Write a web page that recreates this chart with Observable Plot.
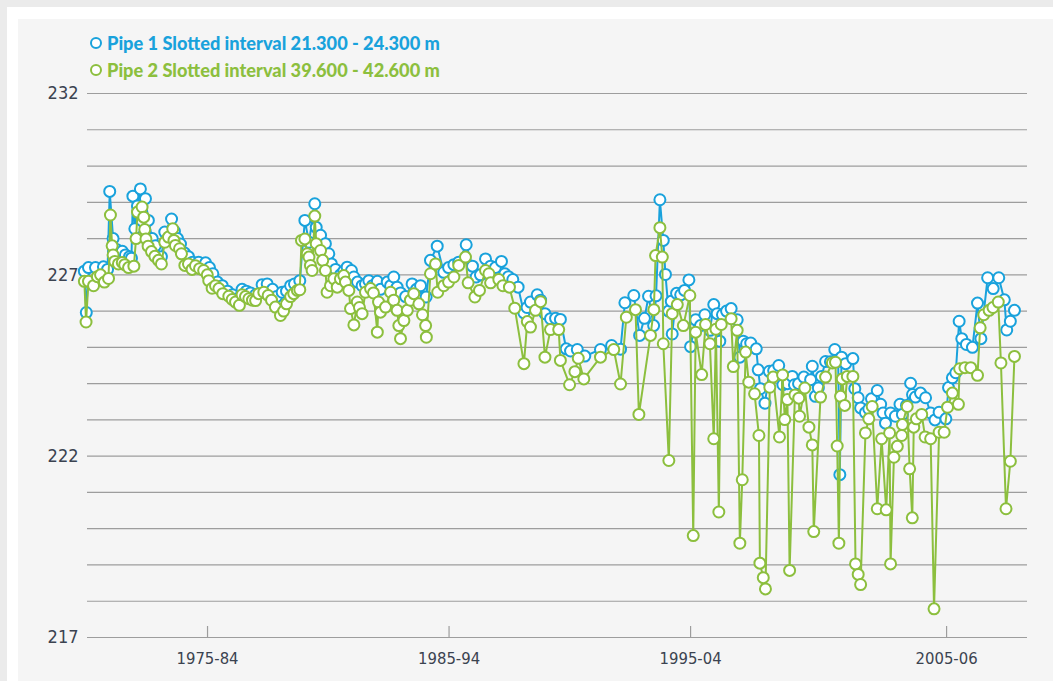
<!DOCTYPE html>
<html>
<head>
<meta charset="utf-8">
<script src="https://cdn.jsdelivr.net/npm/d3@7"></script>
<script src="https://cdn.jsdelivr.net/npm/@observablehq/plot@0.6"></script>
<style>
  html, body { margin: 0; padding: 0; width: 1053px; height: 681px; overflow: hidden; background: #ebebeb; }
  #frame { position: absolute; left: 7px; top: 7px; width: 1046px; height: 674px; background: #ffffff; }
  #panel { position: absolute; left: 18px; top: 19px; width: 1035px; height: 662px; background: #f5f5f5; }
  #chart { position: absolute; left: 0; top: 0; }
  #legend { position: absolute; left: 89px; top: 29px; font-family: Lato, "Open Sans", sans-serif; font-weight: 900; font-size: 18.2px; }
  .row { display: flex; align-items: center; height: 27px; white-space: nowrap; }
  .row svg { margin-right: 4px; }
</style>
</head>
<body>
<div id="frame"></div>
<div id="panel"></div>
<div id="chart"></div>
<div id="legend"></div>
<script>
// ---- data (decimal year, water level) ----
const seriesNames = ["Pipe 1 Slotted interval 21.300 - 24.300 m", "Pipe 2 Slotted interval 39.600 - 42.600 m"];
const seriesColors = ["#19a2dc", "#8cbf3e"];

const pipe1Year = [1969.90,1969.98,1970.07,1970.36,1970.69,1970.86,1970.95,1971.09,1971.23,1971.47,1971.60,1971.77,1971.85,1971.91,1971.99,1972.10,1972.22,1972.43,1972.55,1972.71,1972.84,1973.09,1973.23,1973.51,1973.63,1973.76,1973.88,1974.05,1974.21,1974.38,1974.63,1974.92,1975.08,1975.22,1975.41,1975.61,1975.83,1976.03,1976.24,1976.43,1976.61,1976.78,1976.99,1977.26,1977.47,1977.69,1977.86,1978.09,1978.27,1978.44,1978.60,1978.82,1979.03,1979.20,1979.44,1979.50,1979.68,1979.88,1980.02,1980.13,1980.30,1980.50,1980.64,1980.78,1980.96,1981.06,1981.21,1981.40,1981.54,1981.68,1981.83,1982.03,1982.16,1982.44,1982.58,1982.71,1982.85,1982.99,1983.20,1983.47,1983.65,1983.82,1984.05,1984.23,1984.51,1984.78,1984.98,1985.20,1985.40,1985.71,1985.97,1986.12,1986.30,1986.51,1986.72,1986.92,1987.17,1987.31,1987.46,1987.64,1987.86,1988.10,1988.23,1988.37,1988.65,1988.79,1988.97,1989.20,1989.41,1989.61,1989.85,1990.03,1990.31,1990.62,1991.27,1991.73,1992.10,1992.28,1992.65,1992.89,1993.09,1993.26,1993.47,1993.57,1993.73,1993.87,1993.96,1994.09,1994.20,1994.24,1994.42,1994.59,1994.75,1994.93,1995.00,1995.21,1995.41,1995.59,1995.80,1995.96,1996.10,1996.21,1996.32,1996.49,1996.68,1996.93,1997.04,1997.18,1997.32,1997.49,1997.72,1997.80,1997.89,1998.08,1998.26,1998.44,1998.65,1998.82,1999.01,1999.21,1999.30,1999.47,1999.69,1999.97,2000.04,2000.17,2000.29,2000.42,2000.59,2000.79,2000.97,2001.11,2001.18,2001.25,2001.42,2001.72,2001.80,2001.94,2002.04,2002.24,2002.38,2002.49,2002.73,2002.87,2002.97,2003.07,2003.28,2003.48,2003.67,2003.77,2003.94,2004.11,2004.19,2004.31,2004.52,2004.73,2004.94,2005.12,2005.29,2005.57,2005.68,2005.84,2005.98,2006.12,2006.23,2006.42,2006.67,2006.88,2007.02,2007.30,2007.53,2007.76,2007.99,2008.09,2008.24,2008.41];
const pipe1Level = [227.1,225.96,227.2,227.2,227.22,227.15,229.3,228.0,227.7,227.65,227.55,227.5,227.46,229.17,228.27,228.9,229.37,229.1,228.5,228.0,227.8,227.5,228.18,228.54,228.2,228.0,227.85,227.6,227.5,227.35,227.35,227.33,227.2,227.03,226.8,226.7,226.55,226.45,226.35,226.6,226.55,226.5,226.45,226.73,226.75,226.6,226.4,226.52,226.55,226.7,226.75,226.84,228.5,227.9,228.96,228.31,228.09,227.86,227.58,227.3,227.15,227.0,227.1,227.21,227.12,226.94,226.8,226.7,226.75,226.84,226.7,226.82,226.6,226.8,226.7,226.94,226.66,226.5,226.4,226.75,226.6,226.7,226.39,227.4,227.79,227.07,227.2,227.28,227.35,227.83,227.24,226.94,227.0,227.44,227.24,227.2,227.37,227.03,226.95,226.87,226.66,225.95,226.1,226.25,226.45,226.3,225.93,225.79,225.8,225.77,224.96,224.9,224.94,224.76,224.94,225.05,224.95,226.23,226.43,225.33,225.8,226.41,225.6,226.42,229.07,227.95,227.01,226.0,226.27,225.37,226.49,226.45,226.57,226.86,225.02,225.76,225.6,225.9,225.47,226.18,225.93,225.17,225.9,226.0,226.07,225.76,224.73,225.17,225.1,225.12,224.96,224.38,223.86,223.46,224.34,224.36,224.5,223.97,224.0,224.2,223.97,224.0,224.18,224.11,224.48,223.65,223.88,224.2,224.61,224.6,224.94,224.61,221.49,224.73,224.55,224.69,223.86,223.61,223.33,223.2,223.3,223.58,223.81,223.43,223.19,222.91,223.19,223.1,223.43,223.15,223.4,224.01,223.7,223.63,223.74,223.61,223.19,223.0,223.21,223.03,223.89,224.16,224.3,225.72,225.24,225.08,225.0,226.22,225.24,226.92,226.62,226.92,226.31,225.48,225.72,226.02];

const pipe2Year = [1969.90,1969.97,1970.07,1970.28,1970.44,1970.57,1970.73,1970.90,1970.98,1971.05,1971.09,1971.16,1971.31,1971.47,1971.57,1971.73,1971.95,1972.04,1972.10,1972.29,1972.36,1972.40,1972.45,1972.54,1972.68,1972.82,1972.97,1973.09,1973.23,1973.38,1973.56,1973.61,1973.67,1973.84,1973.92,1974.06,1974.21,1974.36,1974.50,1974.67,1974.84,1974.99,1975.05,1975.19,1975.33,1975.47,1975.63,1975.88,1976.02,1976.16,1976.32,1976.43,1976.57,1976.71,1976.86,1976.99,1977.12,1977.33,1977.51,1977.65,1977.81,1978.02,1978.15,1978.27,1978.44,1978.57,1978.72,1978.82,1978.89,1979.03,1979.13,1979.20,1979.26,1979.33,1979.44,1979.50,1979.68,1979.77,1979.88,1979.95,1980.09,1980.23,1980.37,1980.50,1980.64,1980.71,1980.85,1980.92,1981.06,1981.20,1981.29,1981.40,1981.54,1981.75,1981.87,1982.03,1982.08,1982.16,1982.37,1982.58,1982.71,1982.85,1982.92,1982.99,1983.13,1983.27,1983.40,1983.54,1983.75,1983.90,1984.03,1984.06,1984.23,1984.44,1984.53,1984.78,1984.98,1985.20,1985.40,1985.68,1985.79,1986.07,1986.26,1986.51,1986.65,1986.72,1987.06,1987.23,1987.50,1987.72,1988.10,1988.24,1988.37,1988.58,1988.79,1988.97,1989.20,1989.54,1989.61,1989.99,1990.21,1990.35,1990.58,1991.27,1991.82,1992.10,1992.34,1992.72,1992.86,1993.34,1993.48,1993.55,1993.73,1993.83,1993.87,1994.10,1994.24,1994.45,1994.70,1994.97,1995.11,1995.21,1995.46,1995.62,1995.80,1995.96,1996.05,1996.17,1996.27,1996.68,1996.77,1996.93,1997.04,1997.14,1997.28,1997.41,1997.65,1997.83,1997.87,1998.01,1998.10,1998.28,1998.42,1998.68,1998.81,1998.90,1999.01,1999.10,1999.32,1999.48,1999.51,1999.73,1999.90,2000.04,2000.10,2000.38,2000.59,2000.87,2001.00,2001.07,2001.14,2001.21,2001.28,2001.38,2001.49,2001.72,2001.83,2001.94,2002.04,2002.24,2002.38,2002.52,2002.73,2002.91,2003.10,2003.24,2003.28,2003.42,2003.56,2003.74,2003.77,2003.97,2004.07,2004.18,2004.24,2004.35,2004.57,2004.71,2004.94,2005.08,2005.29,2005.50,2005.64,2005.84,2006.09,2006.14,2006.36,2006.60,2006.88,2006.99,2007.14,2007.36,2007.52,2007.74,2007.85,2008.06,2008.24,2008.41];
const pipe2Level = [226.82,225.7,226.82,226.7,226.95,227.0,226.8,226.9,228.65,227.8,227.55,227.37,227.3,227.34,227.28,227.2,227.24,228.0,228.73,228.87,228.59,228.25,227.99,227.79,227.64,227.51,227.4,227.3,227.9,228.04,228.27,227.95,227.81,227.72,227.58,227.26,227.3,227.15,227.25,227.17,227.12,227.0,226.84,226.63,226.7,226.62,226.48,226.41,226.32,226.25,226.16,226.45,226.4,226.34,226.3,226.29,226.48,226.52,226.43,226.3,226.11,225.88,226.0,226.2,226.4,226.48,226.57,226.59,227.95,227.99,227.58,227.49,227.26,227.12,228.62,227.86,227.67,227.4,227.12,226.52,226.7,226.89,226.66,226.89,226.98,226.8,226.57,226.07,225.62,226.25,226.1,225.93,226.52,226.62,226.5,225.42,226.25,225.97,226.11,226.52,226.3,226.02,225.6,225.24,225.74,226.02,226.3,226.48,226.2,225.9,225.6,225.28,227.03,227.3,226.52,226.7,226.8,226.94,227.26,227.49,226.78,226.39,226.57,227.12,227.03,226.78,226.87,226.7,226.66,226.08,224.55,225.71,225.56,226.02,226.26,224.73,225.49,225.49,224.64,223.97,224.33,224.7,224.13,224.73,224.94,223.99,225.83,226.04,223.15,225.33,226.04,227.53,228.3,227.49,225.1,221.88,225.93,226.18,225.6,226.43,219.81,225.42,224.25,225.63,225.1,222.48,225.5,220.46,225.63,225.79,224.47,225.47,219.6,221.35,224.87,224.04,223.72,222.57,219.05,218.65,218.34,223.9,224.18,222.53,224.24,223.01,223.56,218.85,223.69,223.6,223.1,223.88,222.8,222.31,219.92,223.63,224.18,224.57,224.59,222.28,219.6,223.65,224.13,223.4,224.2,224.2,219.03,218.74,218.46,222.64,223.03,223.37,220.55,222.48,220.52,222.64,219.03,221.97,222.27,222.57,222.87,223.37,221.65,220.3,222.8,223.03,223.15,222.53,222.48,217.79,222.66,222.66,223.35,223.74,223.43,224.41,224.44,224.44,224.23,225.54,225.9,226.02,226.1,226.25,224.57,220.55,221.86,224.75];

const yTicks = [217, 222, 227, 232];
const yGrid = [217,218,219,220,221,222,223,224,225,226,227,228,229,230,231,232];
const xTickValues = [1975, 1985, 1995, 2005.6];
const xTickLabels = ["1975-84", "1985-94", "1995-04", "2005-06"];

// ---- build ----
const pipe1 = pipe1Year.map((t, i) => ({t, v: pipe1Level[i]}));
const pipe2 = pipe2Year.map((t, i) => ({t, v: pipe2Level[i]}));
const labelOf = new Map(xTickValues.map((v, i) => [v, xTickLabels[i]]));
const axisFont = '"Liberation Sans Narrow", "DejaVu Sans Condensed", "Roboto", sans-serif';

const chart = Plot.plot({
  width: 1053,
  height: 681,
  marginLeft: 87,
  marginRight: 26,
  marginTop: 93,
  marginBottom: 44,
  style: {background: "transparent", fontFamily: axisFont, fontSize: "17px", color: "#3b4350", overflow: "visible"},
  x: {domain: [1970.03, 2008.95]},
  y: {domain: [217, 232]},
  marks: [
    Plot.ruleY(yGrid, {stroke: "#9d9d9d", strokeWidth: 1.2}),
    Plot.axisY(yTicks, {tickSize: 0, tickPadding: 9, label: null, fontSize: 18}),
    Plot.axisX(xTickValues, {tickSize: -11, tickFormat: () => "", label: null, stroke: "#9d9d9d", strokeWidth: 1.2}),
    Plot.axisX(xTickValues, {tickSize: 0, tickPadding: 15, tickFormat: d => labelOf.get(d), label: null, fontSize: 16.5}),
    Plot.line(pipe1, {x: "t", y: "v", stroke: seriesColors[0], strokeWidth: 2}),
    Plot.dot(pipe1, {x: "t", y: "v", r: 5.5, stroke: seriesColors[0], strokeWidth: 2, fill: "white"}),
    Plot.line(pipe2, {x: "t", y: "v", stroke: seriesColors[1], strokeWidth: 2}),
    Plot.dot(pipe2, {x: "t", y: "v", r: 5.5, stroke: seriesColors[1], strokeWidth: 2, fill: "white"})
  ]
});
document.getElementById("chart").append(chart);

const legend = document.getElementById("legend");
seriesNames.forEach((name, i) => {
  const row = document.createElement("div");
  row.className = "row";
  row.style.color = seriesColors[i];
  row.innerHTML = `<svg width="14" height="14"><circle cx="7" cy="7" r="5" fill="white" stroke="${seriesColors[i]}" stroke-width="2"/></svg><span>${name}</span>`;
  legend.append(row);
});
</script>
</body>
</html>
